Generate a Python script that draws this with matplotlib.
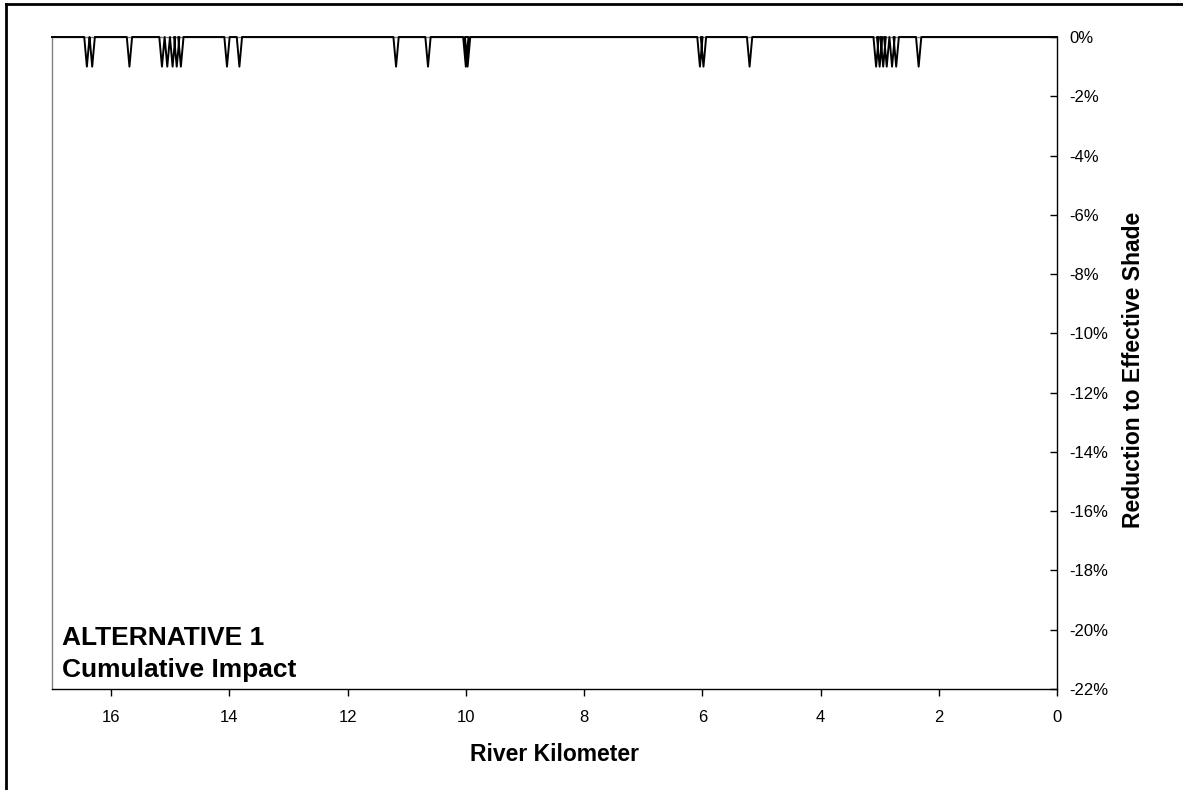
import numpy as np
import matplotlib.pyplot as plt
from matplotlib.lines import Line2D
from matplotlib.ticker import FuncFormatter, MultipleLocator

plt.rcParams["font.family"] = ["Liberation Sans", "DejaVu Sans"]

# river km where the shade reduction dips, and the dip depth (fraction)
dip_km = [16.41, 16.32, 15.69, 15.14, 15.05, 14.96, 14.89, 14.82, 14.04, 13.83,
          11.18, 10.64, 10.00, 9.97, 6.04, 5.98, 5.20,
          3.06, 3.00, 2.94, 2.88, 2.79, 2.72, 2.34]
dip_depth = [-0.0100] * len(dip_km)

km_start = 17.0
km_end = 0.0
half_width = 0.045  # km each side of a dip

# build the profile, running downstream (high km to low km)
xs = [km_start]
ys = [0.0]
for k, d in sorted(zip(dip_km, dip_depth), reverse=True):
    xs += [k + half_width, k, k - half_width]
    ys += [0.0, d, 0.0]
xs.append(km_end)
ys.append(0.0)

fig = plt.figure(figsize=(11.83, 7.90), dpi=100)
ax = fig.add_axes([52 / 1183, 1 - 689 / 790, 1005 / 1183, 652 / 790])

ax.plot(xs, ys, color="black", lw=1.4, solid_joinstyle="round", clip_on=False, zorder=3)

ax.set_xlim(km_start, km_end)
ax.set_ylim(-0.22, 0.0)
ax.xaxis.set_major_locator(MultipleLocator(2))
ax.yaxis.set_major_locator(MultipleLocator(0.02))
ax.yaxis.set_major_formatter(FuncFormatter(lambda v, p: f"{v * 100:.0f}%"))

ax.yaxis.tick_right()
ax.yaxis.set_label_position("right")
ax.tick_params(axis="x", direction="out", length=5, width=1, pad=10, labelsize=12)
ax.tick_params(axis="y", direction="in", length=5, width=1, pad=9, labelsize=12)

for side in ["left", "top"]:
    ax.spines[side].set_color("#808080")
    ax.spines[side].set_linewidth(1)
for side in ["right", "bottom"]:
    ax.spines[side].set_color("black")
    ax.spines[side].set_linewidth(1)

ax.set_xlabel("River Kilometer", fontsize=16.5, fontweight="bold")
ax.xaxis.set_label_coords(0.5, -0.083)
ax.set_ylabel("Reduction to Effective Shade", fontsize=16.5, fontweight="bold",
              rotation=90)
ax.yaxis.set_label_coords(1.065, 0.49)

ax.text(0.01, 0.0675, "ALTERNATIVE 1", transform=ax.transAxes,
        fontsize=19, fontweight="bold", va="baseline", ha="left")
ax.text(0.01, 0.0184, "Cumulative Impact", transform=ax.transAxes,
        fontsize=19, fontweight="bold", va="baseline", ha="left")

# outer frame (left and top edges of the chart area)
fig.add_artist(Line2D([6 / 1183, 6 / 1183], [0, 1 - 4 / 790],
                      transform=fig.transFigure, color="black", lw=2))
fig.add_artist(Line2D([6 / 1183, 1], [1 - 4 / 790, 1 - 4 / 790],
                      transform=fig.transFigure, color="black", lw=2))

fig.savefig("out.png", dpi=100)
